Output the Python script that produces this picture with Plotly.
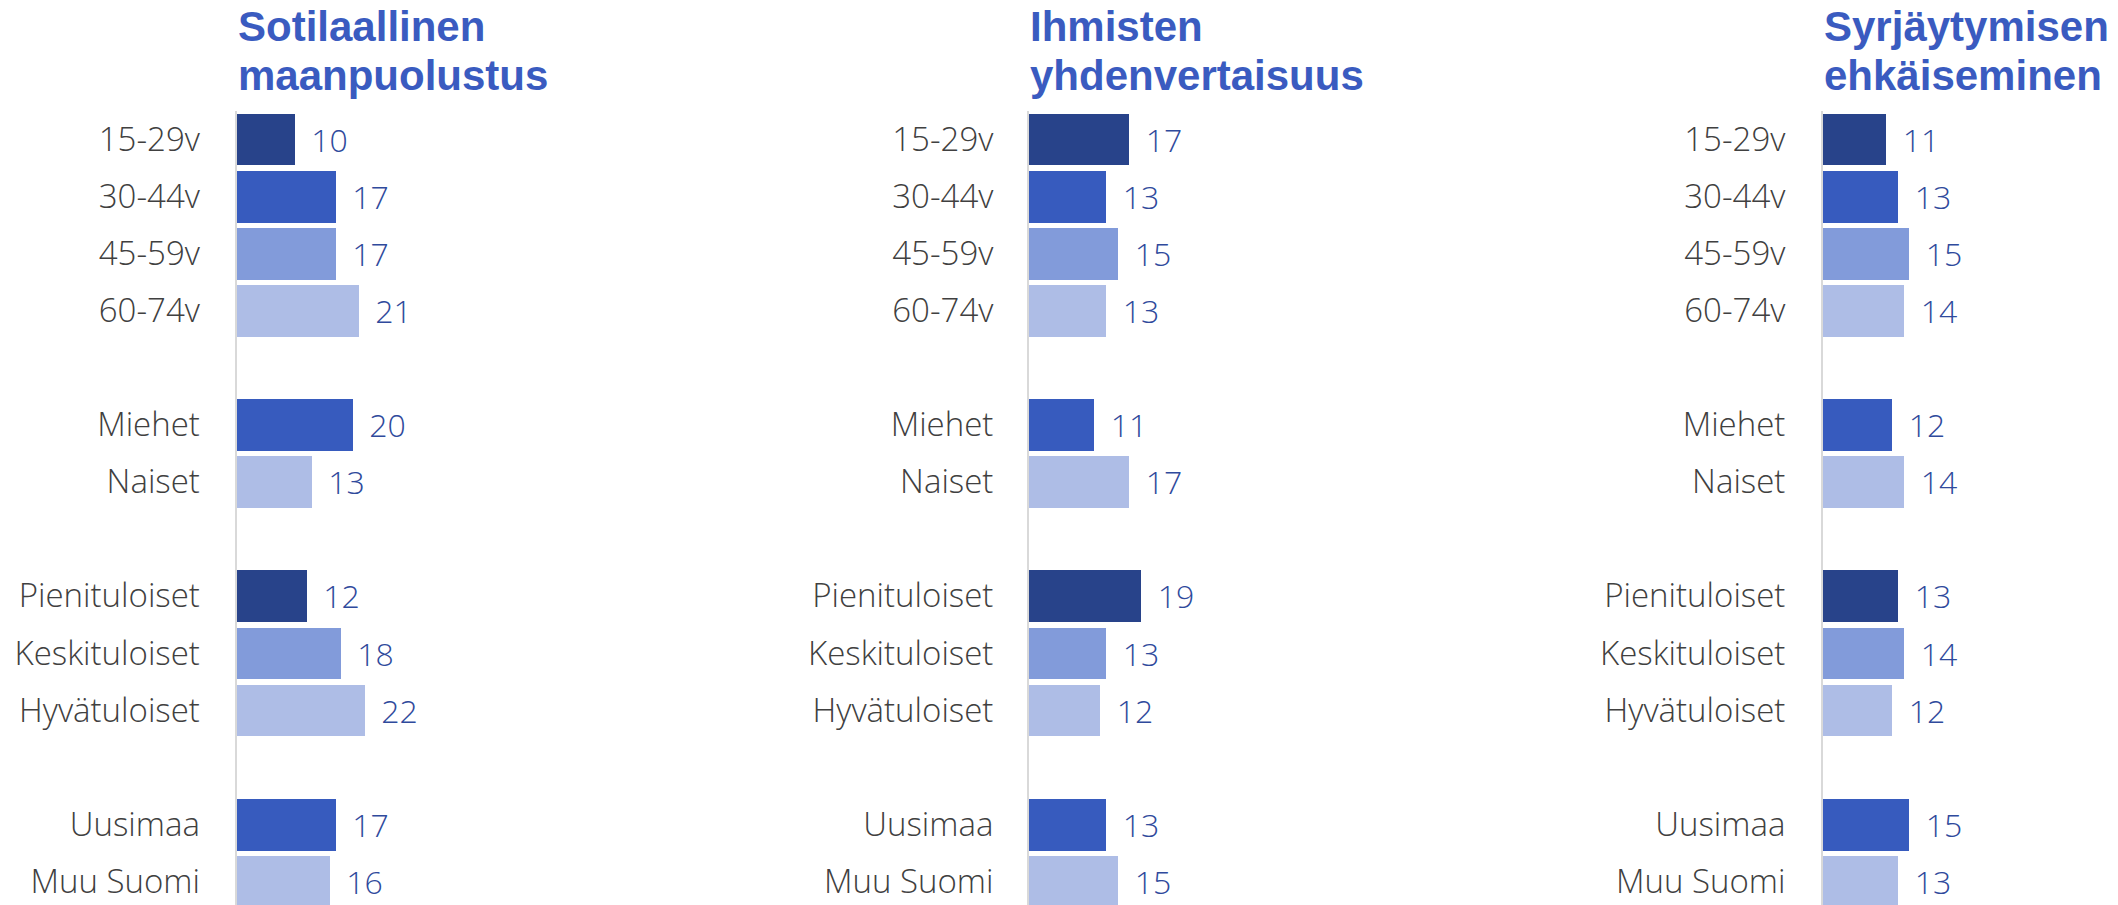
import plotly.graph_objects as go

# Data
groups = [
    ["15-29v", "30-44v", "45-59v", "60-74v"],
    ["Miehet", "Naiset"],
    ["Pienituloiset", "Keskituloiset", "Hyvätuloiset"],
    ["Uusimaa", "Muu Suomi"],
]
titles = [
    ["Sotilaallinen", "maanpuolustus"],
    ["Ihmisten", "yhdenvertaisuus"],
    ["Syrjäytymisen", "ehkäiseminen"],
]
sotilaallinen = [10, 17, 17, 21, 20, 13, 12, 18, 22, 17, 16]
yhdenvertaisuus = [17, 13, 15, 13, 11, 17, 19, 13, 12, 13, 15]
syrjaytyminen = [11, 13, 15, 14, 12, 14, 13, 14, 12, 15, 13]

# Styles
W, H = 2118, 905
colors = {
    "15-29v": "#28438A", "30-44v": "#375BBE", "45-59v": "#829BDA", "60-74v": "#AEBDE6",
    "Miehet": "#375BBE", "Naiset": "#AEBDE6",
    "Pienituloiset": "#28438A", "Keskituloiset": "#829BDA", "Hyvätuloiset": "#AEBDE6",
    "Uusimaa": "#375BBE", "Muu Suomi": "#AEBDE6",
}
title_color = "#3A5BC0"
value_color = "#2F4A9C"
label_color = "#404040"
font = "Open Sans"

# row positions: one empty row between groups
labels, rows = [], []
r = 0
for g in groups:
    for lab in g:
        labels.append(lab)
        rows.append(r)
        r += 1
    r += 1

# panel layout in pixels: axis x, px per unit, label standoff
panels = [
    (236.5, 5.8, 28),
    (1029, 5.9, 27),
    (1823, 5.75, 29),
]
plot_top = 110.5
row_px = 57.1
n_rows = (H - plot_top) / row_px

fig = go.Figure()
series = [sotilaallinen, yhdenvertaisuus, syrjaytyminen]
for i, (vals, (x0, scale, standoff)) in enumerate(zip(series, panels)):
    sfx = "" if i == 0 else str(i + 1)
    fig.add_trace(go.Bar(
        x=vals, y=rows, orientation="h",
        width=0.907,
        marker=dict(color=[colors[l] for l in labels], line=dict(width=0)),
        texttemplate=" \u2009%{x}", textposition="outside",
        textfont=dict(family=font, size=32, color=value_color, weight=300),
        cliponaxis=False,
        xaxis="x" + sfx, yaxis="y" + sfx,
        showlegend=False,
    ))
    x1 = min(x0 + 500, W)
    fig.update_layout(**{
        "xaxis" + sfx: dict(domain=[x0 / W, x1 / W], range=[0, (x1 - x0) / scale],
                            visible=False, anchor="y" + sfx, automargin=False),
        "yaxis" + sfx: dict(domain=[0, 1 - plot_top / H], range=[-0.5 + n_rows, -0.5],
                            anchor="x" + sfx, tickvals=rows, ticktext=labels,
                            showline=True, linecolor="#D9D9D9", linewidth=2,
                            showgrid=False, zeroline=False, ticks="",
                            ticklabelstandoff=standoff, automargin=False,
                            tickfont=dict(family=font, size=33, color=label_color,
                                          weight=300)),
    })
    # title, one annotation per line
    for j, line in enumerate(titles[i]):
        fig.add_annotation(
            text="<b>" + line + "</b>", xref="paper", yref="paper",
            x=(x0 - 1) / W, y=1 - (1 + 49 * j) / H,
            xanchor="left", yanchor="top", align="left",
            showarrow=False,
            font=dict(family="Liberation Sans", size=42, color=title_color),
        )

fig.update_layout(
    width=W, height=H,
    margin=dict(l=0, r=0, t=0, b=0),
    paper_bgcolor="white", plot_bgcolor="white",
    bargap=0,
)

fig.write_html("out.html", config={"displayModeBar": False},
               post_script="document.body.style.margin='0';")
